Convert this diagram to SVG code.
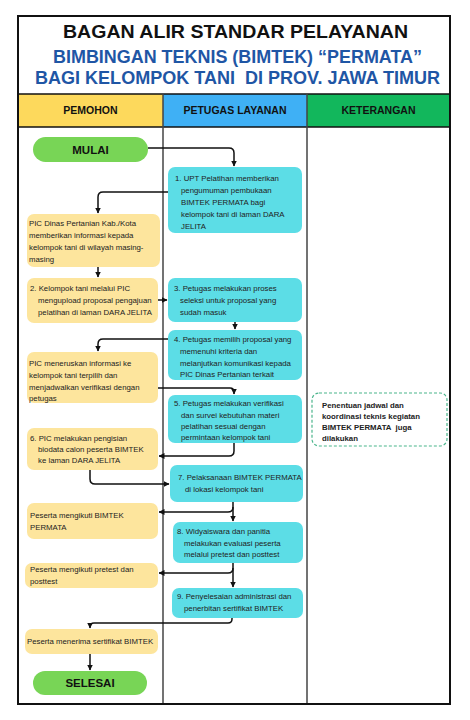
<svg xmlns="http://www.w3.org/2000/svg" width="470" height="720" viewBox="0 0 470 720">
<style>
.t{font-family:"Liberation Sans",Arial,sans-serif;font-size:7.8px;fill:#222}
.b{font-family:"Liberation Sans",Arial,sans-serif;font-weight:bold}
.cyan{fill:#5cdde6}
.yel{fill:#fde59d}
.pill{fill:#78d556}
.c{fill:none;stroke:#111;stroke-width:1.5;marker-end:url(#ah)}
</style>
<defs>
<marker id="ah" markerUnits="userSpaceOnUse" markerWidth="6" markerHeight="6" refX="5.5" refY="3" orient="auto">
<path d="M0,0 L6,3 L0,6 z" fill="#111"/>
</marker>
</defs>
<rect width="470" height="720" fill="#fff"/>
<g id="frame">
<rect x="18" y="16" width="432" height="688" fill="#fff" stroke="#111" stroke-width="2"/>
<rect x="18" y="94" width="145" height="33" fill="#fdd95c"/>
<rect x="163" y="94" width="144" height="33" fill="#3fb0f5"/>
<rect x="307" y="94" width="143" height="33" fill="#12b75c"/>
<line x1="18" y1="94" x2="450" y2="94" stroke="#111" stroke-width="1.5"/>
<line x1="18" y1="127" x2="450" y2="127" stroke="#111" stroke-width="1.5"/>
<line x1="163" y1="94" x2="163" y2="704" stroke="#444" stroke-width="1.5"/>
<line x1="307" y1="94" x2="307" y2="704" stroke="#444" stroke-width="1.5"/>
<rect x="18" y="16" width="432" height="688" fill="none" stroke="#111" stroke-width="2"/>
</g>
<g id="title">
<text class="b" x="235.5" y="38" font-size="19" text-anchor="middle" textLength="345" lengthAdjust="spacingAndGlyphs" fill="#111">BAGAN ALIR STANDAR PELAYANAN</text>
<text class="b" x="237.5" y="63" font-size="18" text-anchor="middle" textLength="369" lengthAdjust="spacingAndGlyphs" fill="#1f56a5">BIMBINGAN TEKNIS (BIMTEK) “PERMATA”</text>
<text class="b" x="237.5" y="84" font-size="18" text-anchor="middle" textLength="405" lengthAdjust="spacingAndGlyphs" fill="#1f56a5" xml:space="preserve">BAGI KELOMPOK TANI  DI PROV. JAWA TIMUR</text>
</g>
<g id="headers">
<text class="b" x="90.5" y="114" font-size="10.5" text-anchor="middle" fill="#111">PEMOHON</text>
<text class="b" x="235" y="114" font-size="10.5" text-anchor="middle" fill="#111">PETUGAS LAYANAN</text>
<text class="b" x="378.5" y="114" font-size="10.5" text-anchor="middle" fill="#111">KETERANGAN</text>
</g>
<g id="connectors">
<path class="c" d="M148,148 H229 Q234,148 234,153 V166"/>
<path class="c" d="M168,192 H103 Q98,192 98,197 V213"/>
<path class="c" d="M98,267 V277"/>
<path class="c" d="M158,300 H167"/>
<path class="c" d="M235,322 V329"/>
<path class="c" d="M168,339 H103 Q98,339 98,344 V351"/>
<path class="c" d="M158,388 H230 Q234,388 234,392 V394"/>
<path class="c" d="M234,443 V451 Q234,456 229,456 H159"/>
<path class="c" d="M90,470 V479 Q90,484 95,484 H169"/>
<path class="c" d="M233,502 V521"/>
<path class="c" d="M233,507 Q233,512 228,512 H159"/>
<path class="c" d="M233,563 V587"/>
<path class="c" d="M233,568 Q233,573 228,573 H159"/>
<path class="c" d="M232,618 V619 Q232,623 228,623 H94 Q90,623 90,627 V628"/>
<path class="c" d="M90,654 V670"/>
</g>
<g id="mulai">
<rect class="pill" x="33" y="137" width="115" height="25" rx="12.5"/>
<text class="b" x="90.5" y="153.5" font-size="11.5" text-anchor="middle" fill="#111">MULAI</text>
</g>
<g id="n1">
<rect class="cyan" x="168" y="167" width="134" height="66" rx="7"/>
<text class="t" x="175" y="181">1. UPT Pelatihan memberikan</text>
<text class="t" x="181" y="193">pengumuman pembukaan</text>
<text class="t" x="181" y="205">BIMTEK PERMATA bagi</text>
<text class="t" x="181" y="217">kelompok tani di laman DARA</text>
<text class="t" x="181" y="229">JELITA</text>
</g>
<g id="picDinas">
<rect class="yel" x="27" y="214" width="133" height="53" rx="7"/>
<text class="t" x="29" y="226">PIC Dinas Pertanian Kab./Kota</text>
<text class="t" x="29" y="238">memberikan informasi kepada</text>
<text class="t" x="29" y="250">kelompok tani di wilayah masing-</text>
<text class="t" x="29" y="262">masing</text>
</g>
<g id="n2">
<rect class="yel" x="27" y="278" width="131" height="45" rx="7"/>
<text class="t" x="30" y="291">2. Kelompok tani melalui PIC</text>
<text class="t" x="38" y="303">mengupload proposal pengajuan</text>
<text class="t" x="38" y="315">pelatihan di laman DARA JELITA</text>
</g>
<g id="n3">
<rect class="cyan" x="168" y="278" width="134" height="44" rx="7"/>
<text class="t" x="174" y="291">3. Petugas melakukan proses</text>
<text class="t" x="180" y="303">seleksi untuk proposal yang</text>
<text class="t" x="180" y="315">sudah masuk</text>
</g>
<g id="n4">
<rect class="cyan" x="168" y="330" width="134" height="50" rx="7"/>
<text class="t" x="174" y="342">4. Petugas memilih proposal yang</text>
<text class="t" x="180" y="354">memenuhi kriteria dan</text>
<text class="t" x="180" y="366">melanjutkan komunikasi kepada</text>
<text class="t" x="180" y="377">PIC Dinas Pertanian terkait</text>
</g>
<g id="picMeneruskan">
<rect class="yel" x="27" y="352" width="131" height="51" rx="7"/>
<text class="t" x="29" y="366">PIC meneruskan informasi ke</text>
<text class="t" x="29" y="378">kelompok tani terpilih dan</text>
<text class="t" x="29" y="390">menjadwalkan verifikasi dengan</text>
<text class="t" x="29" y="401">petugas</text>
</g>
<g id="n5">
<rect class="cyan" x="168" y="395" width="134" height="48" rx="7"/>
<text class="t" x="174" y="406">5. Petugas melakukan verifikasi</text>
<text class="t" x="181" y="418">dan survei kebutuhan materi</text>
<text class="t" x="181" y="429">pelatihan sesuai dengan</text>
<text class="t" x="181" y="440">permintaan kelompok tani</text>
</g>
<g id="n6">
<rect class="yel" x="27" y="428" width="131" height="42" rx="7"/>
<text class="t" x="30" y="441">6. PIC melakukan pengisian</text>
<text class="t" x="38" y="452">biodata calon peserta BIMTEK</text>
<text class="t" x="38" y="463">ke laman DARA JELITA</text>
</g>
<g id="n7">
<rect class="cyan" x="170" y="465" width="133" height="37" rx="7"/>
<text class="t" x="178" y="480">7. Pelaksanaan BIMTEK PERMATA</text>
<text class="t" x="185" y="492">di lokasi kelompok tani</text>
</g>
<g id="pesertaBimtek">
<rect class="yel" x="27" y="503" width="131" height="36" rx="7"/>
<text class="t" x="30" y="518">Peserta mengikuti BIMTEK</text>
<text class="t" x="30" y="530">PERMATA</text>
</g>
<g id="n8">
<rect class="cyan" x="173" y="522" width="130" height="41" rx="7"/>
<text class="t" x="177" y="534">8. Widyaiswara dan panitia</text>
<text class="t" x="184" y="546">melakukan evaluasi peserta</text>
<text class="t" x="184" y="557">melalui pretest dan posttest</text>
</g>
<g id="pesertaPretest">
<rect class="yel" x="25" y="563" width="133" height="25" rx="7"/>
<text class="t" x="30" y="572">Peserta mengikuti pretest dan</text>
<text class="t" x="30" y="584">posttest</text>
</g>
<g id="n9">
<rect class="cyan" x="172" y="588" width="131" height="30" rx="7"/>
<text class="t" x="177" y="599">9. Penyelesaian administrasi dan</text>
<text class="t" x="184" y="611">penerbitan sertifikat BIMTEK</text>
</g>
<g id="pesertaSertifikat">
<rect class="yel" x="25" y="629" width="133" height="25" rx="7"/>
<text class="t" x="27" y="644">Peserta menerima sertifikat BIMTEK</text>
</g>
<g id="selesai">
<rect class="pill" x="33" y="671" width="114" height="24" rx="12"/>
<text class="b" x="90" y="687" font-size="11.5" text-anchor="middle" fill="#111">SELESAI</text>
</g>
<g id="keterangan">
<rect x="312" y="393" width="135" height="53" rx="7" fill="#fff" stroke="#4bb58c" stroke-width="1.2" stroke-dasharray="3,2"/>
<text class="t" x="322" y="408" font-weight="bold">Penentuan jadwal dan</text>
<text class="t" x="322" y="419" font-weight="bold">koordinasi teknis kegiatan</text>
<text class="t" x="322" y="430" font-weight="bold" xml:space="preserve">BIMTEK PERMATA  juga</text>
<text class="t" x="322" y="441" font-weight="bold">dilakukan</text>
</g>
</svg>
